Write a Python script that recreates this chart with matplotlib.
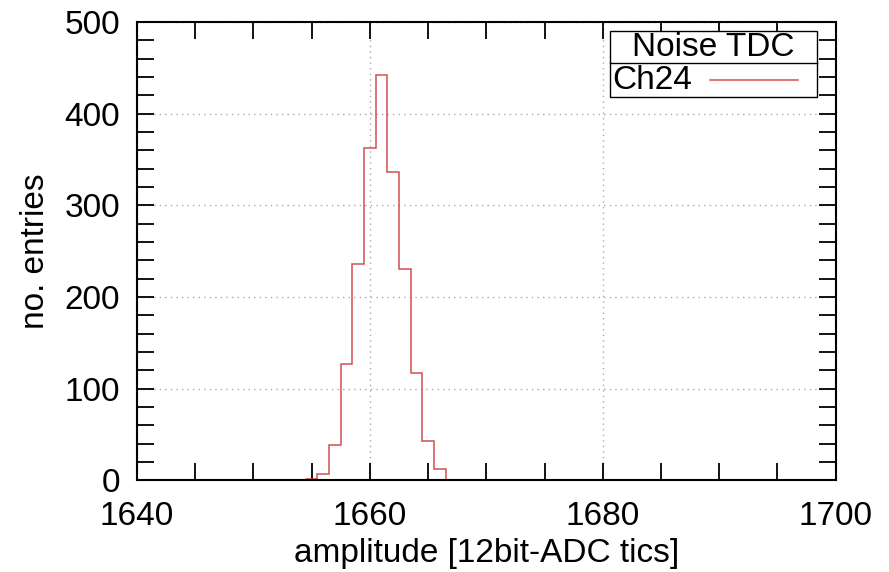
import numpy as np
import matplotlib
matplotlib.use('Agg')
import matplotlib.pyplot as plt
from matplotlib.ticker import MultipleLocator
from matplotlib.patches import Rectangle

plt.rcParams['font.family'] = ['Liberation Sans', 'DejaVu Sans']

# histogram data (bin centres, counts)
bin_centers = [1654, 1655, 1656, 1657, 1658, 1659, 1660, 1661, 1662, 1663, 1664, 1665, 1666]
counts = [1, 2, 7, 39, 127, 236, 363, 442, 336, 231, 117, 43, 12]
series_label = 'Ch24'
legend_title = 'Noise TDC'
line_color = '#d34f4f'
fs = 24

fig = plt.figure(figsize=(8.89, 5.72), dpi=100)
ax = fig.add_axes([0.154, 0.160, 0.786, 0.8015])

edges = np.append(np.array(bin_centers) - 0.5, bin_centers[-1] + 0.5)
ax.stairs(counts, edges, color=line_color, linewidth=1.1)

ax.set_xlim(1640, 1700)
ax.set_ylim(0, 500)
ax.xaxis.set_major_locator(MultipleLocator(20))
ax.xaxis.set_minor_locator(MultipleLocator(5))
ax.yaxis.set_major_locator(MultipleLocator(100))
ax.yaxis.set_minor_locator(MultipleLocator(20))

ax.tick_params(which='both', direction='in', top=True, right=True,
               length=12, width=1.3, labelsize=fs)
ax.tick_params(axis='x', which='major', pad=15)
ax.tick_params(axis='y', which='major', pad=12)
for s in ax.spines.values():
    s.set_linewidth(1.5)

ax.grid(which='major', color='#aaaaaa', linestyle=(0, (1, 3)), linewidth=1)
ax.set_axisbelow(True)

ax.set_xlabel('amplitude [12bit-ADC tics]', fontsize=fs, labelpad=4)
ax.set_ylabel('no. entries', fontsize=fs, labelpad=10)

# gnuplot-style key box: title row + one entry row
lx0, lx1 = 0.677, 0.974
ly0, ysep, ly1 = 0.836, 0.911, 0.980
ax.add_patch(Rectangle((lx0, ly0), lx1 - lx0, ly1 - ly0, transform=ax.transAxes,
                       facecolor='white', edgecolor='black', linewidth=1.0, zorder=5))
ax.plot([lx0, lx1], [ysep, ysep], transform=ax.transAxes, color='black',
        linewidth=1.0, zorder=6)
ax.text((lx0 + lx1) / 2, (ysep + ly1) / 2, legend_title, transform=ax.transAxes,
        ha='center', va='center', fontsize=fs, zorder=7)
ax.text(lx0 + 0.003, (ly0 + ysep) / 2, series_label, transform=ax.transAxes,
        ha='left', va='center', fontsize=fs, zorder=7)
ax.plot([0.820, 0.946], [(ly0 + ysep) / 2] * 2, transform=ax.transAxes,
        color=line_color, linewidth=1.1, zorder=7)

plt.savefig('out.png', dpi=100)
